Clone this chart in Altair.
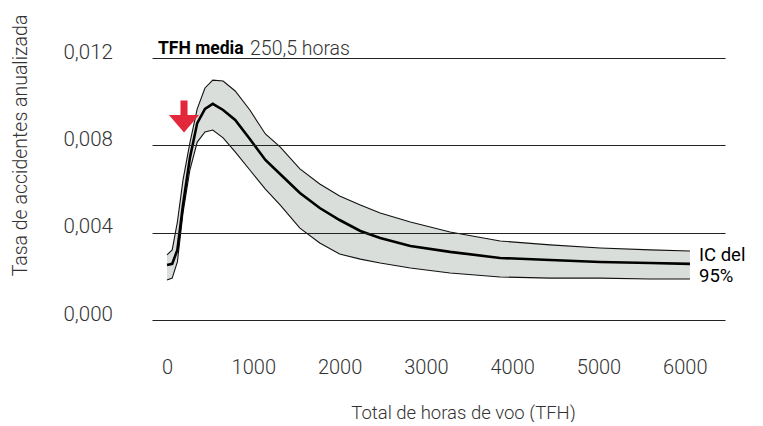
import altair as alt
import pandas as pd

# Total flight hours (x) and annualised accident rate (median and 95% CI)
tfh = [0, 60, 120, 185, 265, 350, 440, 530, 650, 790, 960, 1140, 1310, 1540,
       1770, 2000, 2240, 2470, 2820, 3280, 3860, 4440, 5020, 5600, 6060]
rate = [0.00252, 0.00257, 0.00321, 0.00527, 0.00742, 0.00902, 0.00967, 0.00990,
        0.00962, 0.00916, 0.00829, 0.00733, 0.00669, 0.00582, 0.00513, 0.00458,
        0.00408, 0.00376, 0.00339, 0.00312, 0.00284, 0.00275, 0.00266, 0.00261, 0.00257]
upper = [0.00298, 0.00321, 0.00449, 0.00641, 0.00811, 0.00967, 0.01063, 0.01099,
         0.01095, 0.01049, 0.00962, 0.00852, 0.00793, 0.00692, 0.00623, 0.00568,
         0.00527, 0.00490, 0.00449, 0.00403, 0.00362, 0.00344, 0.00330, 0.00321, 0.00316]
lower = [0.00183, 0.00192, 0.00266, 0.00490, 0.00687, 0.00815, 0.00861, 0.00870,
         0.00834, 0.00770, 0.00687, 0.00600, 0.00527, 0.00421, 0.00353, 0.00302,
         0.00279, 0.00261, 0.00238, 0.00215, 0.00197, 0.00192, 0.00192, 0.00188, 0.00188]

x_ticks = [0, 1000, 2000, 3000, 4000, 5000, 6000]
y_ticks = [0.0, 0.004, 0.008, 0.012]

arrow_x = [197]
arrow_y = [0.00932]

FONT = "Roboto"
GRAY = "#333333"

df = pd.DataFrame({"tfh": tfh, "rate": rate, "upper": upper, "lower": lower})

xs = alt.Scale(domain=[-174, 6466], nice=False)
ys = alt.Scale(domain=[0, 0.012826], nice=False)

x_enc = alt.X(
    "tfh:Q", scale=xs,
    axis=alt.Axis(
        values=x_ticks, format="d", domain=False, ticks=False, grid=False,
        labelPadding=37, labelFontSize=20, labelFont=FONT, labelFontWeight=300,
        labelColor=GRAY, title="Total de horas de voo (TFH)", titleFont=FONT,
        titleFontSize=18.5, titleFontWeight=300, titleColor=GRAY,
        titleX=311, titleY=92, titleAlign="center", titleBaseline="middle",
    ),
)

y_enc = alt.Y(
    "lower:Q", scale=ys,
    axis=alt.Axis(
        values=y_ticks, domain=False, ticks=False, grid=True,
        gridColor="#222222", gridWidth=1, zindex=1,
        labelExpr="replace(format(datum.value, '.3f'), '.', ',')",
        labelAlign="left", labelBaseline="alphabetic", labelPadding=89,
        labelFontSize=20.5, labelFont=FONT, labelFontWeight=300, labelColor=GRAY,
        title="Tasa de accidentes anualizada", titleFont=FONT, titleFontSize=19.5,
        titleFontWeight=300, titleColor=GRAY, titleX=-132, titleY=105,
        titleAngle=270, titleAlign="center", titleBaseline="middle",
    ),
)

band = alt.Chart(df).mark_area(color="#dadedb", opacity=1).encode(
    x=x_enc, y=y_enc, y2="upper:Q",
)

up_line = alt.Chart(df).mark_line(color="#111111", strokeWidth=1.1).encode(
    x=alt.X("tfh:Q", scale=xs), y=alt.Y("upper:Q", scale=ys))
lo_line = alt.Chart(df).mark_line(color="#111111", strokeWidth=1.1).encode(
    x=alt.X("tfh:Q", scale=xs), y=alt.Y("lower:Q", scale=ys))
mid_line = alt.Chart(df).mark_line(color="#000000", strokeWidth=2.6).encode(
    x=alt.X("tfh:Q", scale=xs), y=alt.Y("rate:Q", scale=ys))

arrow_path = "M-0.22,-1 L0.22,-1 L0.22,-0.1 L0.94,-0.1 L0,1 L-0.94,-0.1 L-0.22,-0.1 Z"
arrow = alt.Chart(pd.DataFrame({"tfh": arrow_x, "rate": arrow_y})).mark_point(
    shape=arrow_path, filled=True, size=1024, color="#e2283a", opacity=1, strokeWidth=0
).encode(x=alt.X("tfh:Q", scale=xs), y=alt.Y("rate:Q", scale=ys))

hdr1 = alt.Chart(pd.DataFrame({"t": ["TFH media"]})).mark_text(
    align="left", baseline="middle", font=FONT, fontSize=17.5, fontWeight="bold", color="#000000"
).encode(x=alt.value(6), y=alt.value(9), text="t:N")
hdr2 = alt.Chart(pd.DataFrame({"t": ["250,5 horas"]})).mark_text(
    align="left", baseline="middle", font=FONT, fontSize=19.5, fontWeight=300, color=GRAY
).encode(x=alt.value(98), y=alt.value(9), text="t:N")
ci1 = alt.Chart(pd.DataFrame({"t": ["IC del"]})).mark_text(
    align="left", baseline="middle", font=FONT, fontSize=18.5, fontWeight="normal", color="#000000"
).encode(x=alt.value(547), y=alt.value(215), text="t:N")
ci2 = alt.Chart(pd.DataFrame({"t": ["95%"]})).mark_text(
    align="left", baseline="middle", font=FONT, fontSize=18.5, fontWeight="normal", color="#000000"
).encode(x=alt.value(547), y=alt.value(236), text="t:N")

chart = alt.layer(band, up_line, lo_line, mid_line, arrow, hdr1, hdr2, ci1, ci2).properties(
    width=573, height=280,
    autosize=alt.AutoSizeParams(type="none"),
    padding={"left": 144, "top": 32, "right": 20, "bottom": 102},
).configure_view(stroke=None)

chart.save("out.html", embed_options={"renderer": "svg", "actions": False})
